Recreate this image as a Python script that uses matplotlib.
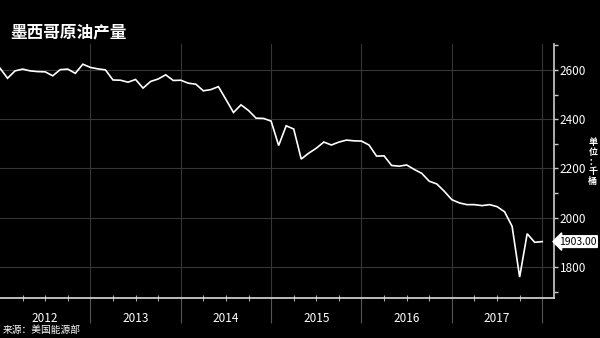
import matplotlib
matplotlib.use("Agg")
import matplotlib.pyplot as plt
import matplotlib.transforms as mtransforms
import numpy as np

plt.rcParams["font.family"] = ["Noto Sans CJK SC", "DejaVu Sans"]

# ---------------------------------------------------------------------------
# Data: Mexico crude output, monthly from 2012, thousand barrels/day
# ---------------------------------------------------------------------------
title = "墨西哥原油产量"
source = "来源：美国能源部"
unit_label = "单位：千桶"
start_year = 2012
production = [
    2607, 2566, 2596, 2603, 2596, 2593, 2592, 2576, 2601, 2603, 2586, 2623,
    2610, 2604, 2600, 2559, 2558, 2550, 2561, 2526, 2553, 2563, 2580, 2557,
    2558, 2546, 2542, 2515, 2520, 2532, 2480, 2427, 2458, 2435, 2404, 2403,
    2392, 2293, 2373, 2360, 2238, 2262, 2282, 2307, 2295, 2307, 2315, 2312,
    2311, 2295, 2250, 2251, 2212, 2209, 2214, 2196, 2180, 2148, 2137, 2107,
    2073, 2060, 2053, 2053, 2049, 2053, 2045, 2024, 1965, 1759, 1935, 1900,
    1903,
]
year_labels = ["2012", "2013", "2014", "2015", "2016", "2017"]
y_ticks = [1800, 2000, 2200, 2400, 2600]
last_label = "1903.00"

x = start_year + np.arange(len(production)) / 12.0

# ---------------------------------------------------------------------------
# Figure
# ---------------------------------------------------------------------------
BG = "black"
GRID = "#363636"
FG = "white"

fig = plt.figure(figsize=(6.0, 3.38), dpi=100, facecolor=BG)
ax = fig.add_axes([0.0, 0.1183, 0.9233, 0.7515], facecolor=BG)

ax.plot(x, production, color=FG, linewidth=1.2, solid_joinstyle="miter")

ax.set_xlim(2012.0, 2018.13)
ax.set_ylim(1674, 2705)

# y axis on the right
ax.yaxis.tick_right()
ax.set_yticks(y_ticks)
ax.set_yticks(np.arange(1700, 2701, 100), minor=True)
ax.tick_params(axis="y", which="both", colors="#cccccc", length=3, width=1,
               pad=1, labelsize=8.5, labelcolor=FG)

# x axis: year separators hanging below the axis, quarter ticks
ax.set_xticks(np.arange(2013, 2019))
ax.set_xticks(np.arange(2012.25, 2018.1, 0.25), minor=True)
ax.tick_params(axis="x", which="major", direction="out", length=18,
               width=0.8, colors="#555555", labelbottom=False)
ax.tick_params(axis="x", which="minor", direction="inout", length=4,
               width=0.8, colors="#aaaaaa")

for s in ("left", "top"):
    ax.spines[s].set_visible(False)
ax.spines["right"].set_color("#cccccc")
ax.spines["right"].set_linewidth(1.2)
ax.spines["bottom"].set_color("#dddddd")
ax.spines["bottom"].set_linewidth(1.2)

ax.grid(True, which="major", color=GRID, linewidth=0.8)
ax.set_axisbelow(True)

# year labels centred between separators
trans = mtransforms.blended_transform_factory(ax.transData, ax.transAxes)
for k, lab in enumerate(year_labels):
    ax.text(start_year + k + 0.5, -0.08, lab, transform=trans, color=FG,
            fontsize=8.5, ha="center", va="center")

# last value tag
ytrans = mtransforms.blended_transform_factory(ax.transAxes, ax.transData)
ax.text(1.009, production[-1], last_label, transform=ytrans, color="black",
        fontsize=7.5, ha="left", va="center",
        bbox=dict(boxstyle="larrow,pad=0.08", fc="white", ec="white"))

# title, unit, source
fig.text(0.017, 0.905, title, color=FG, fontsize=12, fontweight="bold",
         ha="left", va="center")
fig.text(0.988, 0.52, "\n".join(unit_label), color=FG, fontsize=6.5,
         fontweight="bold", ha="center", va="center", linespacing=1.1)
fig.text(0.005, 0.025, source, color=FG, fontsize=7, ha="left", va="center")

fig.savefig("out.png", dpi=100, facecolor=BG)
plt.close(fig)
